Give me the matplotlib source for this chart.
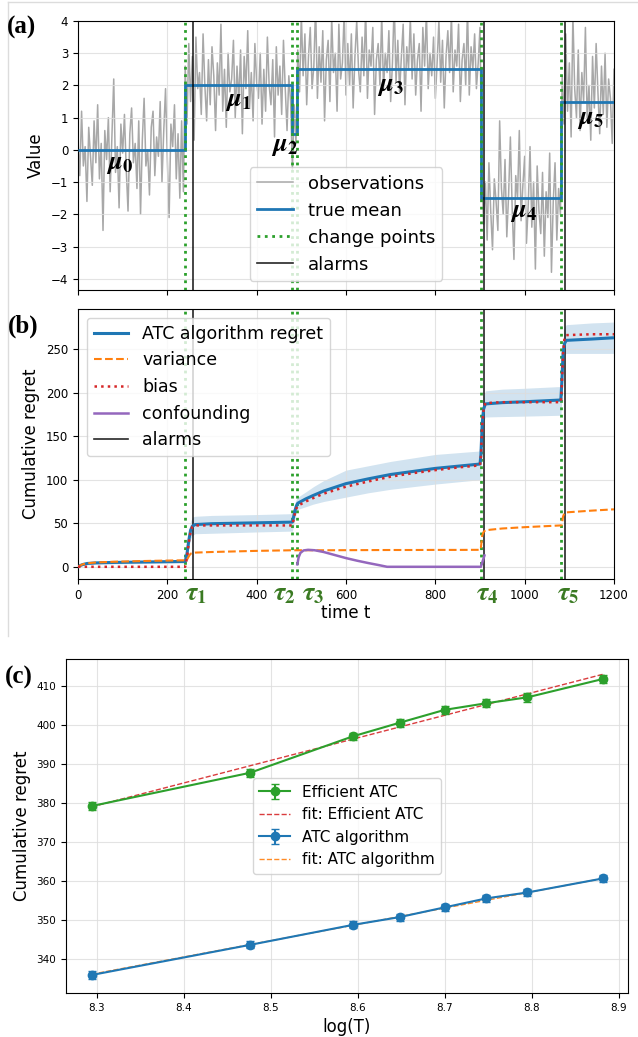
import numpy as np
import matplotlib
matplotlib.use("Agg")
import matplotlib.pyplot as plt
from matplotlib.lines import Line2D
import matplotlib.transforms as mtransforms

plt.rcParams['mathtext.fontset'] = 'stix'

# ---------------- Panel (a) data ----------------
obs_step = 4
obs_seg0_start, obs_seg0 = 0, [0.3, -0.8, 1.2, -0.5, 0.1, -1.6, 0.7, -0.2, -1.1, 0.9,
    -0.4, 1.4, -0.9, 0.2, -2.5, 0.6, -0.3, 1.0, -1.3, 0.4,
    2.2, -0.7, 0.1, -1.8, 0.8, -0.1, 1.1, -0.6, -1.9, 0.5,
    1.3, -0.4, 0.2, -1.2, 0.9, -2.0, 0.3, 1.6, -0.5, 0.0,
    -1.4, 0.7, 1.2, -0.8, 0.4, -0.2, 1.5, -1.0, 0.6, 1.9,
    -0.3, -2.1, 0.8, 0.1, 1.4, -0.9, 0.5, -1.5, 0.9, -1.3]
obs_seg1_start, obs_seg1 = 240, [2.6, 0.8, 3.3, 1.5, 2.9, 0.3, 3.5, 1.9, 2.4, 1.1,
    3.6, 2.0, 0.9, 2.8, 1.4, 3.2, 2.3, 0.6, 2.7, 1.7,
    3.9, 1.2, 2.5, 0.7, 3.0, 1.8, 2.2, 3.4, 1.0, 2.6,
    1.5, 3.1, 0.5, 2.9, 1.9, 3.7, 1.3, 2.4, 0.9, 3.3,
    2.1, 1.6, 3.0, 0.8, 2.5, 1.2, 3.5, 2.0, 1.4, 2.8,
    0.4, 3.2, 1.7, 2.6, 1.1, 3.4, 1.9, 0.6, 2.3, 1.5]
obs_seg2_start, obs_seg2 = 480, [-0.6, 1.4, 0.2]
obs_seg3_start, obs_seg3 = 492, [3.1, 1.8, 4.2, 2.3, 3.6, 1.4, 2.9, 3.8, 1.9, 2.6,
    4.5, 1.6, 3.2, 2.1, 3.7, 0.9, 2.8, 3.4, 1.5, 4.1,
    2.4, 3.0, 1.2, 3.9, 2.2, 2.7, 4.3, 1.7, 3.3, 2.0,
    3.6, 1.3, 2.9, 4.0, 2.5, 1.8, 3.5, 2.3, 4.4, 1.6,
    3.1, 2.6, 3.8, 1.1, 2.8, 3.3, 2.0, 4.2, 1.9, 3.0,
    2.4, 3.7, 1.5, 2.7, 4.6, 2.1, 3.4, 1.8, 2.9, 3.9,
    1.4, 3.2, 2.5, 4.1, 2.2, 3.6, 1.7, 2.8, 3.3, 1.2,
    3.8, 2.6, 4.3, 1.9, 3.0, 2.3, 3.5, 1.6, 2.7, 4.0,
    2.1, 3.4, 1.3, 2.9, 3.7, 2.4, 4.2, 1.8, 3.1, 2.6,
    3.9, 1.5, 2.8, 3.3, 2.0, 4.4, 1.7, 3.2, 2.5, 3.6,
    1.9, 2.7, 3.8]
obs_seg4_start, obs_seg4 = 904, [-0.6, -2.3, -1.0, -2.8, -0.4, -1.9, -3.1, -0.9, -1.6, -2.5,
    0.9, -1.2, -2.0, -0.3, -2.7, -1.4, 0.4, -1.8, -3.4, -0.8,
    -1.5, 0.6, -2.2, -1.1, -0.2, -2.9, -1.7, 0.1, -2.4, -1.0,
    -3.7, -0.5, -1.9, -2.6, -0.7, -3.3, -1.3, -2.1, -0.1, -3.8,
    -1.6, -0.4, -2.8, -1.2, -2.0]
obs_seg5_start, obs_seg5 = 1084, [2.3, 0.8, 3.6, 1.2, 2.7, 0.4, 4.2, 1.9, 1.0, 3.1,
    0.6, 2.4, 1.5, 3.8, 0.9, 2.0, 0.3, 2.9, 1.3, 3.3,
    1.8, 0.5, 2.6, 1.1, 3.0, 0.7, 2.2, 1.6, 0.2, 2.5]

mu_edges = [0, 240, 480, 491, 902, 1081, 1200]
mu_values = [0.0, 2.0, 0.5, 2.5, -1.5, 1.5]
change_points = [240, 480, 491, 902, 1081]
alarms = [257, 910, 1090]
mu_label_pos_t = [94, 359, 463, 699, 997, 1147]
mu_label_pos_y = [-0.4, 1.55, 0.15, 2.0, -1.9, 1.0]
tau_label_t = [240, 436, 502, 892, 1073]

# ---------------- Panel (b) data ----------------
t_b = [0, 5, 10, 20, 40, 80, 160, 240, 244, 248, 252, 256, 262, 300, 400, 480,
       483, 486, 489, 492, 510, 527, 550, 600, 650, 700, 750, 800, 850, 900,
       902, 905, 908, 912, 950, 1000, 1081, 1083, 1086, 1089, 1093, 1150, 1200]
regret = [0, 1.5, 2.5, 3.8, 4.5, 5.0, 5.6, 6.2, 15, 30, 42, 46.5, 48.5, 49.5, 50.5, 51.3,
          58, 65, 70, 73, 78, 82, 87, 95.5, 101, 106, 109.5, 113, 115.5, 118,
          128, 165, 181, 187, 188.5, 189.5, 191.5, 210, 245, 256, 260, 261.5, 263]
regret_lo = [0, 0.5, 1.2, 2.2, 3.0, 3.4, 3.8, 4.2, 10, 22, 32, 36, 38, 38.5, 40, 41,
             48, 56, 62, 66, 69, 72, 75, 80, 85, 89, 92, 95, 97.5, 100,
             110, 150, 168, 172, 172.5, 173, 174, 190, 232, 244, 245, 245, 245]
regret_hi = [0, 2.5, 3.8, 5.4, 6.0, 6.6, 7.4, 8.2, 20, 38, 52, 57, 58, 59, 60, 61,
             68, 74, 78, 80, 86, 92, 99, 111, 116, 121, 125, 129, 131, 133,
             146, 180, 195, 202, 204, 205, 207, 230, 260, 275, 278, 280, 281]
variance = [0, 1.5, 2.8, 4.0, 5.0, 5.8, 6.8, 7.5, 8, 12, 15, 15.8, 16.3, 17, 18.3, 19,
            19, 19, 19, 19, 19, 19, 19, 19.1, 19.2, 19.3, 19.3, 19.4, 19.4, 19.5,
            22, 36, 40, 42, 44, 45.5, 47.5, 48, 58, 61.5, 62.5, 64.5, 66]
bias = [0, 0, 0, 0, 0, 0, 0, 0, 10, 28, 40, 46, 47.5, 47.5, 47.5, 47.5,
        55, 62, 67, 70, 75, 79, 84, 92, 98, 103.5, 107.5, 111, 114, 116.5,
        126, 163, 180, 188, 189, 189, 189, 205, 245, 262, 266, 267, 267]
conf_t = [491, 494, 498, 505, 515, 530, 550, 575, 600, 625, 650, 675, 692, 902, 910]
confounding = [2.8, 11, 16, 18.8, 19.5, 19, 17, 13.5, 10, 7, 4.3, 1.8, 0, 0, 13]

# ---------------- Panel (c) data ----------------
logT = [8.294, 8.476, 8.594, 8.648, 8.700, 8.748, 8.795, 8.882]
eff_regret = [379.2, 387.7, 397.0, 400.5, 403.8, 405.5, 407.0, 411.7]
eff_err = [1.0, 1.0, 1.0, 1.0, 1.0, 1.0, 1.1, 1.0]
atc_regret = [336.0, 343.7, 348.8, 350.8, 353.3, 355.6, 357.1, 360.7]
atc_err = [0.9, 0.9, 0.9, 0.9, 0.9, 0.9, 0.9, 0.9]
fit_x = [8.294, 8.882]
eff_fit = [379.0, 412.9]
atc_fit = [336.2, 360.7]

# ---------------- Figure ----------------
W, H = 638, 1037
fig = plt.figure(figsize=(W / 100, H / 100), dpi=100)

def ax_rect(l, t, r, b):
    return [l / W, 1 - b / H, (r - l) / W, (b - t) / H]

axa = fig.add_axes(ax_rect(78, 21, 614, 290))
axb = fig.add_axes(ax_rect(78, 309, 614, 579))
axc = fig.add_axes(ax_rect(66, 659, 628, 993))

tick_fs = 8.5
label_fs = 12

# panel (a)
segs = [(obs_seg0_start, obs_seg0), (obs_seg1_start, obs_seg1), (obs_seg2_start, obs_seg2),
        (obs_seg3_start, obs_seg3), (obs_seg4_start, obs_seg4), (obs_seg5_start, obs_seg5)]
obs_t = np.concatenate([s + obs_step * np.arange(len(v)) for s, v in segs])
obs_v = np.concatenate([np.array(v, float) for s, v in segs])
axa.plot(obs_t, obs_v, color='#a8a8a8', lw=1.1, label='observations', zorder=1)
axa.stairs(mu_values, mu_edges, color='C0', lw=2, baseline=None, label='true mean', zorder=3)
for i, cp in enumerate(change_points):
    axa.axvline(cp, color='tab:green', ls=':', lw=2, label='change points' if i == 0 else None, zorder=4)
for i, al in enumerate(alarms):
    axa.axvline(al, color='black', lw=1.2, alpha=0.85, label='alarms' if i == 0 else None, zorder=4)
for i, (tx, ty) in enumerate(zip(mu_label_pos_t, mu_label_pos_y)):
    axa.text(tx, ty, r'$\boldsymbol{\mu}_{\mathbf{%d}}$' % i, fontsize=19, ha='center', va='center', zorder=5)
axa.set_xlim(0, 1200)
axa.set_ylim(-4.35, 4)
axa.set_yticks(range(-4, 5))
axa.set_xticks(range(0, 1201, 200))
axa.tick_params(labelbottom=False, labelsize=tick_fs)
axa.set_ylabel('Value', fontsize=label_fs)
axa.grid(True, color='#dddddd', lw=0.8, alpha=0.8)
axa.legend(loc='lower center', fontsize=13, framealpha=0.8)

# panel (b)
axb.fill_between(t_b, regret_lo, regret_hi, color='C0', alpha=0.2, lw=0, zorder=1)
axb.plot(t_b, regret, color='C0', lw=2.2, label='ATC algorithm regret', zorder=3)
axb.plot(t_b, variance, color='C1', ls='--', lw=1.5, label='variance', zorder=3)
axb.plot(t_b, bias, color='tab:red', ls=':', lw=1.8, label='bias', zorder=4)
axb.plot(conf_t, confounding, color='tab:purple', lw=1.8, label='confounding', zorder=3)
for cp in change_points:
    axb.axvline(cp, color='tab:green', ls=':', lw=2, zorder=2)
for i, al in enumerate(alarms):
    axb.axvline(al, color='black', lw=1.2, alpha=0.85, label='alarms' if i == 0 else None, zorder=2)
axb.set_xlim(0, 1200)
axb.set_ylim(-14, 296)
axb.set_xticks(range(0, 1201, 200))
axb.set_yticks(range(0, 251, 50))
axb.tick_params(labelsize=tick_fs)
axb.set_xlabel('time t', fontsize=label_fs, labelpad=2)
axb.set_ylabel('Cumulative regret', fontsize=label_fs)
axb.grid(True, color='#dddddd', lw=0.8, alpha=0.8)
axb.legend(loc='upper left', fontsize=12.5, framealpha=0.8)
trans = mtransforms.blended_transform_factory(axb.transData, axb.transAxes)
for i, tx in enumerate(tau_label_t):
    axb.text(tx, -0.08, r'$\boldsymbol{\tau}_{\mathbf{%d}}$' % (i + 1), transform=trans,
             fontsize=19, color='#3a7a22', ha='left', va='baseline', clip_on=False)

# panel (c)
h1 = axc.errorbar(logT, eff_regret, yerr=eff_err, color='tab:green', marker='o', ms=6, lw=1.5,
                  capsize=3, label='Efficient ATC', zorder=3)
h2, = axc.plot(fit_x, eff_fit, color='tab:red', ls='--', lw=1, alpha=0.9, label='fit: Efficient ATC', zorder=2)
h3 = axc.errorbar(logT, atc_regret, yerr=atc_err, color='tab:blue', marker='o', ms=6, lw=1.5,
                  capsize=3, label='ATC algorithm', zorder=3)
h4, = axc.plot(fit_x, atc_fit, color='tab:orange', ls='--', lw=1, alpha=0.9, label='fit: ATC algorithm', zorder=2)
axc.set_xlim(8.2645, 8.9107)
axc.set_ylim(331.4, 416.8)
axc.set_xticks([8.3, 8.4, 8.5, 8.6, 8.7, 8.8, 8.9])
axc.set_yticks(range(340, 411, 10))
axc.tick_params(labelsize=7.5)
axc.set_xlabel('log(T)', fontsize=label_fs)
axc.set_ylabel('Cumulative regret', fontsize=label_fs)
axc.grid(True, color='#dddddd', lw=0.8, alpha=0.8)
axc.legend([h1, h2, h3, h4], ['Efficient ATC', 'fit: Efficient ATC', 'ATC algorithm', 'fit: ATC algorithm'],
           loc='center', fontsize=11, framealpha=0.8)

# panel labels
for lbl, (px, py) in zip(['(a)', '(b)', '(c)'], [(21, 27), (23, 326), (19, 677)]):
    fig.text(px / W, 1 - py / H, lbl, fontsize=18, fontweight='bold',
             family='Liberation Serif', ha='center', va='center')

# light frame around panels (a)-(b)
fig.add_artist(Line2D([8 / W, 8 / W], [1 - 2 / H, 1 - 636 / H], transform=fig.transFigure,
                      color='#dcdcdc', lw=1))
fig.add_artist(Line2D([8 / W, 1.0], [1 - 2 / H, 1 - 2 / H], transform=fig.transFigure,
                      color='#dcdcdc', lw=1))

fig.savefig('out.png', dpi=100)
